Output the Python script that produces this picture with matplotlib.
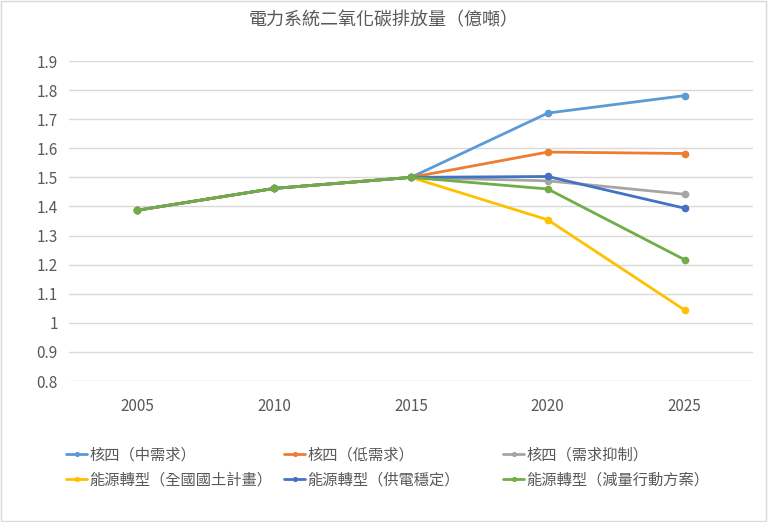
import matplotlib.pyplot as plt
from matplotlib.patches import Rectangle

plt.rcParams['font.family'] = ['Noto Sans CJK TC', 'DejaVu Sans']

years = ['2005', '2010', '2015', '2020', '2025']
labels = ['核四（中需求）', '核四（低需求）', '核四（需求抑制）',
          '能源轉型（全國國土計畫）', '能源轉型（供電穩定）', '能源轉型（減量行動方案）']
nuc_mid = [1.387, 1.462, 1.500, 1.721, 1.781]
nuc_low = [1.387, 1.462, 1.500, 1.587, 1.582]
nuc_sup = [1.387, 1.462, 1.500, 1.488, 1.442]
et_land = [1.387, 1.462, 1.500, 1.354, 1.044]
et_stab = [1.387, 1.462, 1.500, 1.503, 1.394]
et_act = [1.387, 1.462, 1.500, 1.460, 1.217]
series = [nuc_mid, nuc_low, nuc_sup, et_land, et_stab, et_act]
colors = ['#5B9BD5', '#ED7D31', '#A5A5A5', '#FFC000', '#4472C4', '#70AD47']

fig = plt.figure(figsize=(7.68, 5.22), dpi=100)
ax = fig.add_axes([69 / 768, 1 - 381 / 522, 684 / 768, 320 / 522])

x = list(range(len(years)))
handles = []
for vals, c, lab in zip(series, colors, labels):
    h, = ax.plot(x, vals, color=c, lw=2, marker='o', ms=4.5, label=lab, solid_capstyle='round')
    handles.append(h)

ax.set_xlim(-0.5, 4.5)
ax.set_ylim(0.8, 1.9)
ax.set_yticks([0.8, 0.9, 1.0, 1.1, 1.2, 1.3, 1.4, 1.5, 1.6, 1.7, 1.8, 1.9])
ax.set_yticklabels(['0.8', '0.9', '1', '1.1', '1.2', '1.3', '1.4', '1.5', '1.6', '1.7', '1.8', '1.9'])
ax.set_xticks(x)
ax.set_xticklabels(years)
ax.grid(axis='y', color='#D9D9D9', lw=1)
ax.set_axisbelow(True)
for s in ax.spines.values():
    s.set_visible(False)
ax.tick_params(length=0, colors='#595959', labelsize=11, pad=8)
ax.tick_params(axis='x', pad=12)

fig.text(0.5, 1 - 20 / 522, '電力系統二氧化碳排放量（億噸）', ha='center', va='center',
         fontsize=13, color='#595959')

# chart border
fig.patches.append(Rectangle((0.001, 0.001), 0.997, 0.997, transform=fig.transFigure,
                             fill=False, edgecolor='#D9D9D9', lw=1))

# legend: three columns filled row by row, equal widths
col_x = [63, 281, 500]
for i, cx in enumerate(col_x):
    hs = [handles[i], handles[i + 3]]
    leg = fig.legend(hs, [h.get_label() for h in hs], loc='upper left',
                     bbox_to_anchor=(cx / 768, 1 - 443 / 522), frameon=False, fontsize=11,
                     handlelength=1.4, handletextpad=0.15, labelspacing=0.55,
                     borderaxespad=0, borderpad=0.2, markerscale=0.6)
    for t in leg.get_texts():
        t.set_color('#595959')

fig.savefig('out.png', dpi=100)
